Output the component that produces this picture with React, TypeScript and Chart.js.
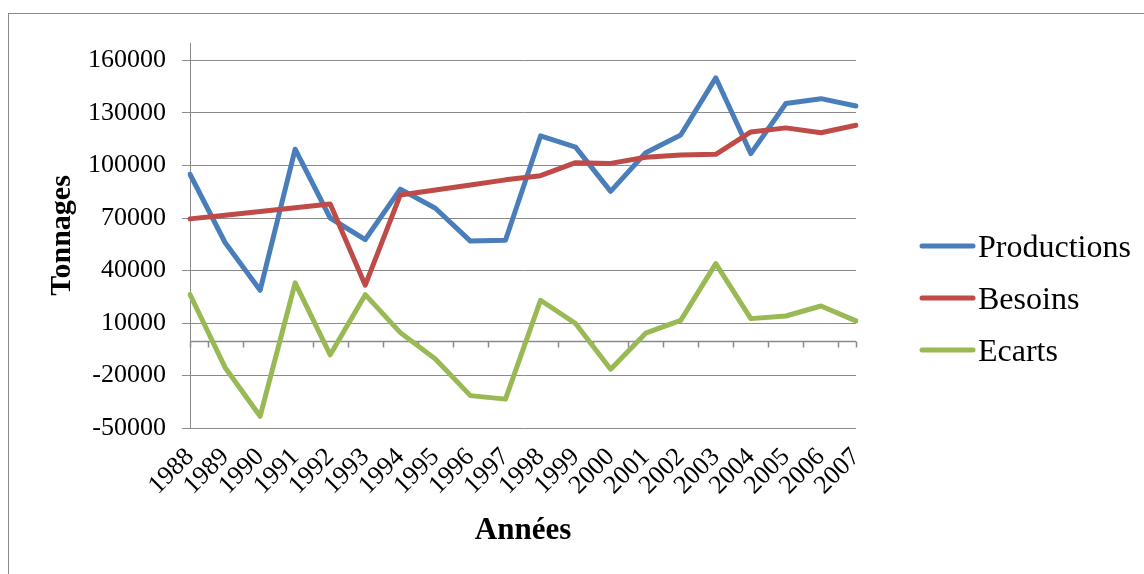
import React, { useEffect, useRef } from "react";
import { Chart, registerables } from "chart.js";

Chart.register(...registerables);

const years = ["1988", "1989", "1990", "1991", "1992", "1993", "1994", "1995", "1996", "1997", "1998", "1999", "2000", "2001", "2002", "2003", "2004", "2005", "2006", "2007"];
const productions = [95000, 56000, 28700, 109300, 70000, 57700, 86500, 75600, 56800, 57300, 116900, 110500, 85200, 107300, 117400, 150100, 106800, 135400, 138200, 134000];
const besoins = [69500, 71600, 73700, 75900, 78000, 31600, 83200, 86000, 88900, 91800, 94200, 101600, 101200, 104700, 106000, 106400, 119200, 121500, 118700, 123000];
const ecarts = [26300, -15400, -43300, 32900, -8200, 26200, 4500, -10600, -31500, -33500, 23000, 9700, -16400, 4200, 11500, 43900, 12500, 14000, 19700, 11200];
const yTicks = [-50000, -20000, 10000, 40000, 70000, 100000, 130000, 160000];
const seriesNames = ["Productions", "Besoins", "Ecarts"];
const seriesColors = ["#4A7EBB", "#BE4B48", "#98B954"];

const FONT = "'Liberation Serif', 'Times New Roman', serif";
const W = 1144;
const H = 574;
const PAD_L = 30;
const PAD_B = 10;
const GRID = "#8a8a8a";

const framePlugin = {
  id: "frame",
  beforeDraw(chart: any) {
    const ctx = chart.ctx;
    ctx.save();
    ctx.fillStyle = "#ffffff";
    ctx.fillRect(0, 0, chart.width, chart.height);
    ctx.strokeStyle = GRID;
    ctx.lineWidth = 1;
    ctx.strokeRect(8.5, 13.5, chart.width + 20, chart.height + 20);
    ctx.restore();
  },
};

const zeroAxisPlugin = {
  id: "zeroAxis",
  beforeDatasetsDraw(chart: any) {
    const { ctx, chartArea } = chart;
    const xs = chart.scales.x;
    const ys = chart.scales.y;
    const y0 = Math.round(ys.getPixelForValue(0)) + 0.5;
    ctx.save();
    ctx.strokeStyle = GRID;
    ctx.lineWidth = 1.5;
    ctx.beginPath();
    ctx.moveTo(chartArea.left, y0);
    ctx.lineTo(chartArea.right, y0);
    const marks: number[] = [chartArea.left, chartArea.right];
    for (let i = 0; i < years.length - 1; i++) {
      marks.push((xs.getPixelForValue(i) + xs.getPixelForValue(i + 1)) / 2);
    }
    marks.forEach((mx) => {
      const px = Math.round(mx) + 0.5;
      ctx.moveTo(px, y0);
      ctx.lineTo(px, y0 + 6);
    });
    ctx.stroke();
    ctx.restore();
  },
};

const legendPlugin = {
  id: "customLegend",
  afterDraw(chart: any) {
    const ctx = chart.ctx;
    ctx.save();
    seriesNames.forEach((name, i) => {
      const ly = 246 + i * 52;
      ctx.strokeStyle = seriesColors[i];
      ctx.lineWidth = 5;
      ctx.lineCap = "round";
      ctx.beginPath();
      ctx.moveTo(922, ly);
      ctx.lineTo(973, ly);
      ctx.stroke();
      ctx.fillStyle = "#000";
      ctx.font = `32px ${FONT}`;
      ctx.textAlign = "left";
      ctx.textBaseline = "alphabetic";
      ctx.fillText(name, 978, ly + 11);
    });
    ctx.restore();
  },
};

export default function App() {
  const ref = useRef<HTMLCanvasElement | null>(null);

  useEffect(() => {
    if (!ref.current) return;
    const mk = (label: string, data: number[], color: string, order: number) => ({
      label,
      data,
      borderColor: color,
      backgroundColor: color,
      borderWidth: 5,
      tension: 0,
      pointRadius: 0,
      pointHoverRadius: 0,
      fill: false,
      borderJoinStyle: "round" as const,
      borderCapStyle: "round" as const,
      order,
    });
    const chart = new Chart(ref.current, {
      type: "line",
      data: {
        labels: years,
        datasets: [
          mk(seriesNames[0], productions, seriesColors[0], 3),
          mk(seriesNames[1], besoins, seriesColors[1], 2),
          mk(seriesNames[2], ecarts, seriesColors[2], 1),
        ],
      },
      options: {
        responsive: false,
        animation: false,
        devicePixelRatio: 1,
        layout: { padding: { left: PAD_L, top: 43, right: W - 856, bottom: PAD_B } },
        plugins: {
          legend: { display: false },
          tooltip: { enabled: false },
          title: { display: false },
        },
        scales: {
          x: {
            type: "category",
            offset: false,
            grid: { display: false, drawTicks: false },
            border: { display: false },
            ticks: {
              autoSkip: false,
              maxRotation: 45,
              minRotation: 45,
              padding: 14,
              color: "#000",
              font: { family: FONT, size: 26 },
            },
            title: {
              display: true,
              text: "Années",
              color: "#000",
              font: { family: FONT, size: 31, weight: "bold", lineHeight: 1 },
              padding: { top: 0, bottom: 18 },
            },
            afterFit: (s: any) => {
              s.height = H - PAD_B - 428;
            },
          },
          y: {
            min: -50000,
            max: 170000,
            afterBuildTicks: (s: any) => {
              s.ticks = yTicks.map((v) => ({ value: v }));
            },
            afterFit: (s: any) => {
              s.width = 190 - PAD_L;
            },
            grid: { color: GRID, lineWidth: 1, drawTicks: true, tickLength: 8 },
            border: { display: true, color: GRID, width: 1 },
            ticks: {
              color: "#000",
              padding: 16,
              font: { family: FONT, size: 26 },
              callback: (v: any) => String(v),
            },
            title: {
              display: true,
              text: "Tonnages",
              color: "#000",
              font: { family: FONT, size: 30, weight: "bold", lineHeight: 1 },
              padding: { top: 17, bottom: 0 },
            },
          },
        },
      },
      plugins: [framePlugin, zeroAxisPlugin, legendPlugin],
    });
    return () => chart.destroy();
  }, []);

  return (
    <div style={{ position: "absolute", left: 0, top: 0, width: W, height: H, background: "#fff" }}>
      <canvas ref={ref} width={W} height={H} style={{ width: W, height: H, display: "block" }} />
    </div>
  );
}
